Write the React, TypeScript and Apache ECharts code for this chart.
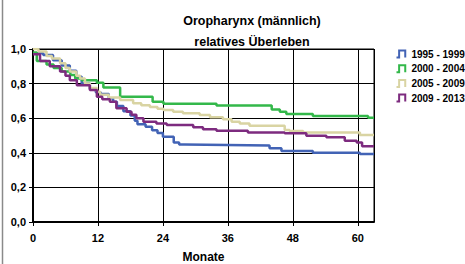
import React, { useEffect, useRef } from "react";
import * as echarts from "echarts";

const seriesNames = ["1995 - 1999", "2000 - 2004", "2005 - 2009", "2009 - 2013"];
const seriesColors = ["#4263b5", "#33b84a", "#d9d4a3", "#7d2b7f"];
const xTicks = [0, 12, 24, 36, 48, 60];

const blueMonths = [0, 1.9, 3.7, 5.3, 6.8, 8.0, 9.0, 10.5, 11.6, 12.5, 14.0, 14.8, 15.5, 16.7, 18.0, 18.8, 19.3, 20.8, 22.0, 23.0, 24.0, 26.0, 27.0, 28.0, 35.8, 43.7, 45.9, 51.7, 60.4, 63];
const blueValues = [0.975, 0.965, 0.935, 0.905, 0.875, 0.84, 0.8, 0.77, 0.75, 0.74, 0.715, 0.695, 0.67, 0.64, 0.615, 0.585, 0.565, 0.55, 0.53, 0.515, 0.493, 0.46, 0.448, 0.445, 0.442, 0.426, 0.41, 0.401, 0.393, 0.393];

const greenMonths = [0, 0.7, 2.5, 3.8, 5.3, 6.9, 7.8, 9.0, 11.8, 13.0, 16.1, 22.1, 24.1, 33.9, 44.1, 45.6, 46.8, 51.7, 61.9, 63];
const greenValues = [0.98, 0.93, 0.91, 0.89, 0.87, 0.85, 0.83, 0.82, 0.805, 0.778, 0.724, 0.695, 0.683, 0.674, 0.651, 0.638, 0.624, 0.613, 0.603, 0.603];

const beigeMonths = [0, 1.0, 2.5, 3.5, 5.0, 6.0, 6.8, 8.0, 8.7, 9.6, 10.5, 11.8, 12.4, 14.0, 16.1, 18.5, 20.0, 21.6, 23.0, 24.1, 25.9, 27.7, 30.8, 32.7, 35.1, 36.7, 38.2, 40.0, 46.5, 47.4, 49.9, 60.4, 63];
const beigeValues = [1.0, 0.985, 0.96, 0.945, 0.917, 0.89, 0.87, 0.845, 0.83, 0.8, 0.775, 0.753, 0.735, 0.72, 0.705, 0.686, 0.675, 0.665, 0.655, 0.647, 0.638, 0.628, 0.618, 0.605, 0.594, 0.58, 0.57, 0.557, 0.532, 0.526, 0.518, 0.503, 0.503];

const purpleMonths = [0, 1.3, 3.1, 5.0, 6.0, 6.8, 8.1, 10.5, 11.8, 12.8, 14.2, 15.4, 17.3, 18.2, 19.1, 20.4, 22.8, 24.7, 29.6, 31.4, 33.9, 39.7, 46.5, 50.5, 54.2, 57.6, 59.8, 60.8, 63];
const purpleValues = [0.97, 0.93, 0.9, 0.87, 0.845, 0.82, 0.79, 0.763, 0.724, 0.71, 0.695, 0.657, 0.638, 0.62, 0.6, 0.58, 0.57, 0.56, 0.547, 0.536, 0.528, 0.518, 0.513, 0.499, 0.49, 0.47, 0.46, 0.438, 0.438];

const allMonths = [blueMonths, greenMonths, beigeMonths, purpleMonths];
const allValues = [blueValues, greenValues, beigeValues, purpleValues];

const FONT = "'Liberation Sans', Arial, sans-serif";

export default function App() {
  const ref = useRef<HTMLDivElement>(null);
  useEffect(() => {
    if (!ref.current) return;
    const chart = echarts.init(ref.current, undefined, { renderer: "svg" });
    chart.setOption({
      animation: false,
      backgroundColor: "#ffffff",
      title: [
        {
          text: "Oropharynx (männlich)",
          left: 247,
          top: 9,
          textAlign: "center",
          textStyle: { fontFamily: FONT, fontSize: 12.5, fontWeight: "bold", color: "#000" },
        },
        {
          text: "relatives Überleben",
          left: 247,
          top: 30,
          textAlign: "center",
          textStyle: { fontFamily: FONT, fontSize: 12.5, fontWeight: "bold", color: "#000" },
        },
      ],
      legend: {
        orient: "vertical",
        left: 394,
        top: 48,
        padding: 0,
        itemWidth: 11,
        itemHeight: 7,
        itemGap: 2.7,
        icon: "path://M0,8 L3,8 L3,0 L10,0 L10,8",
        textStyle: { fontFamily: FONT, fontSize: 10, fontWeight: "bold", color: "#000", lineHeight: 12 },
        data: seriesNames.map((n, i) => ({
          name: n,
          itemStyle: { color: "none", borderColor: seriesColors[i], borderWidth: 2 },
        })),
      },
      grid: {
        left: 33,
        right: 91,
        top: 49,
        bottom: 42,
        containLabel: false,
        outerBoundsMode: "none",
        show: true,
        borderColor: "#000",
        borderWidth: 1,
        backgroundColor: "transparent",
      },
      xAxis: {
        type: "value",
        min: 0,
        max: 63,
        interval: 12,
        name: "Monate",
        nameLocation: "middle",
        nameGap: 29,
        nameTextStyle: { fontFamily: FONT, fontSize: 12, fontWeight: "bold", color: "#000" },
        axisLine: { show: true, onZero: false, lineStyle: { color: "#000", width: 2 } },
        axisTick: { show: true, length: 4, lineStyle: { color: "#000", width: 1 } },
        axisLabel: {
          fontFamily: FONT,
          fontSize: 11,
          fontWeight: "bold",
          color: "#000",
          margin: 10,
          showMaxLabel: false,
          formatter: (v: number) => (xTicks.includes(v) ? String(v) : ""),
        },
        splitLine: { show: true, lineStyle: { color: "#000", width: 1 } },
      },
      yAxis: {
        type: "value",
        min: 0,
        max: 1,
        interval: 0.2,
        axisLine: { show: true, lineStyle: { color: "#000", width: 2 } },
        axisTick: { show: true, length: 4, lineStyle: { color: "#000", width: 1 } },
        axisLabel: {
          fontFamily: FONT,
          fontSize: 11,
          fontWeight: "bold",
          color: "#000",
          margin: 7,
          formatter: (v: number) => v.toFixed(1).replace(".", ","),
        },
        splitLine: { show: true, lineStyle: { color: "#000", width: 1 } },
      },
      graphic: [
        {
          type: "line",
          shape: { x1: 2.5, y1: 0, x2: 2.5, y2: 264 },
          style: { stroke: "#8a8a8a", lineWidth: 1.5 },
        },
      ],
      series: seriesNames.map((n, i) => ({
        name: n,
        type: "line",
        step: "end",
        showSymbol: false,
        symbol: "none",
        color: seriesColors[i],
        lineStyle: { color: seriesColors[i], width: 2.5 },
        data: allMonths[i].map((m, j) => [m, allValues[i][j]]),
      })),
    });
    return () => chart.dispose();
  }, []);
  return (
    <div
      ref={ref}
      style={{ position: "fixed", left: 0, top: 0, width: 465, height: 264, background: "#fff" }}
    />
  );
}
